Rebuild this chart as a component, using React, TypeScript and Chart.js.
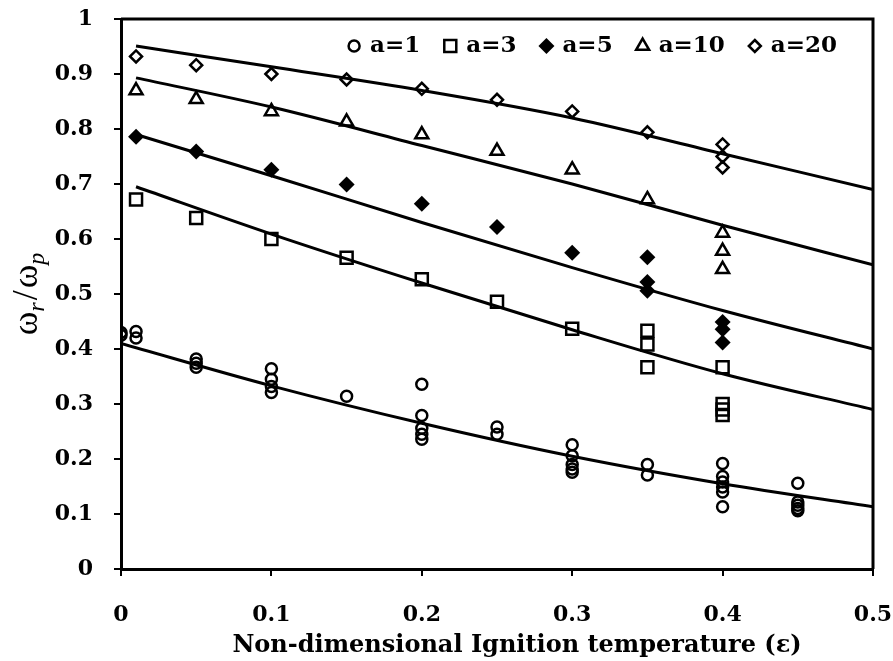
import React, { useEffect, useRef } from 'react';
import { Chart, registerables } from 'chart.js';

Chart.register(...registerables);

// ---- data ----
const eps1 = [0, 0, 0.01, 0.01, 0.05, 0.05, 0.05, 0.1, 0.1, 0.1, 0.1, 0.15, 0.2, 0.2, 0.2, 0.2, 0.2, 0.25, 0.25, 0.3, 0.3, 0.3, 0.3, 0.3, 0.35, 0.35, 0.4, 0.4, 0.4, 0.4, 0.4, 0.4, 0.45, 0.45, 0.45, 0.45, 0.45];
const w1 = [0.43, 0.425, 0.432, 0.42, 0.382, 0.374, 0.367, 0.364, 0.345, 0.332, 0.321, 0.314, 0.336, 0.279, 0.256, 0.245, 0.236, 0.258, 0.245, 0.226, 0.206, 0.19, 0.182, 0.176, 0.19, 0.171, 0.192, 0.168, 0.158, 0.149, 0.14, 0.113, 0.156, 0.122, 0.116, 0.11, 0.106];

const eps3 = [0.01, 0.05, 0.1, 0.15, 0.2, 0.25, 0.3, 0.35, 0.35, 0.35, 0.4, 0.4, 0.4, 0.4];
const w3 = [0.672, 0.638, 0.6, 0.566, 0.527, 0.486, 0.437, 0.433, 0.408, 0.367, 0.367, 0.3, 0.29, 0.28];

const eps5 = [0.01, 0.05, 0.1, 0.15, 0.2, 0.25, 0.3, 0.35, 0.35, 0.35, 0.4, 0.4, 0.4];
const w5 = [0.786, 0.759, 0.726, 0.699, 0.664, 0.622, 0.575, 0.567, 0.522, 0.506, 0.449, 0.436, 0.412];

const eps10 = [0.01, 0.05, 0.1, 0.15, 0.2, 0.25, 0.3, 0.35, 0.4, 0.4, 0.4];
const w10 = [0.87, 0.854, 0.832, 0.813, 0.79, 0.76, 0.726, 0.672, 0.611, 0.578, 0.545];

const eps20 = [0.01, 0.05, 0.1, 0.15, 0.2, 0.25, 0.3, 0.35, 0.4, 0.4, 0.4];
const w20 = [0.932, 0.916, 0.9, 0.89, 0.873, 0.853, 0.832, 0.794, 0.772, 0.75, 0.73];

// fitted curves
const fitEps1 = [0, 0.1, 0.2, 0.3, 0.4, 0.5];
const fit1 = [0.41, 0.333, 0.265, 0.205, 0.155, 0.113];
const fitEps = [0.01, 0.1, 0.2, 0.3, 0.4, 0.5];
const fit3 = [0.695, 0.609, 0.52, 0.435, 0.355, 0.29];
const fit5 = [0.79, 0.715, 0.63, 0.548, 0.47, 0.4];
const fit10 = [0.893, 0.84, 0.77, 0.7, 0.625, 0.553];
const fit20 = [0.951, 0.913, 0.87, 0.82, 0.755, 0.69];

const legendLabels = ['a=1', 'a=3', 'a=5', 'a=10', 'a=20'];
const xTitle = 'Non-dimensional Ignition temperature (\u03b5)';

const BOLD_FONT = '"DejaVu Serif"';

const pts = (xs: number[], ys: number[]) => xs.map((x, i) => ({ x, y: ys[i] }));

function drawMarker(ctx: CanvasRenderingContext2D, kind: string, x: number, y: number) {
  ctx.save();
  ctx.lineWidth = 2.5;
  ctx.strokeStyle = '#000';
  ctx.fillStyle = '#000';
  ctx.beginPath();
  if (kind === 'circle') {
    ctx.arc(x, y, 5.5, 0, Math.PI * 2);
    ctx.stroke();
  } else if (kind === 'square') {
    ctx.rect(x - 6, y - 6, 12, 12);
    ctx.stroke();
  } else if (kind === 'fdiamond' || kind === 'diamond') {
    const r = kind === 'fdiamond' ? 8 : 6;
    ctx.moveTo(x, y - r);
    ctx.lineTo(x + r, y);
    ctx.lineTo(x, y + r);
    ctx.lineTo(x - r, y);
    ctx.closePath();
    if (kind === 'fdiamond') ctx.fill();
    else ctx.stroke();
  } else if (kind === 'triangle') {
    const r = 7.5;
    for (let k = 0; k < 3; k++) {
      const a = -Math.PI / 2 + (k * 2 * Math.PI) / 3;
      const px = x + Math.cos(a) * r;
      const py = y + Math.sin(a) * r;
      if (k === 0) ctx.moveTo(px, py);
      else ctx.lineTo(px, py);
    }
    ctx.closePath();
    ctx.stroke();
  }
  ctx.restore();
}

const customPlugin = {
  id: 'customDecor',
  afterDraw(chart: any) {
    const { ctx, chartArea } = chart;
    // frame (top and right sides)
    ctx.save();
    ctx.strokeStyle = '#000';
    ctx.lineWidth = 3;
    ctx.beginPath();
    ctx.moveTo(chartArea.left, chartArea.top);
    ctx.lineTo(chartArea.right, chartArea.top);
    ctx.lineTo(chartArea.right, chartArea.bottom);
    ctx.stroke();
    ctx.restore();

    // legend
    const kinds = ['circle', 'square', 'fdiamond', 'triangle', 'diamond'];
    ctx.save();
    ctx.font = `bold 23px ${BOLD_FONT}`;
    ctx.fillStyle = '#000';
    ctx.textBaseline = 'middle';
    ctx.textAlign = 'left';
    const markerToText = 16;
    const textToMarker = 30;
    const widths = legendLabels.map((t) => ctx.measureText(t).width);
    let total = 0;
    widths.forEach((w, i) => {
      total += markerToText + w + (i < widths.length - 1 ? textToMarker : 0);
    });
    const rightEnd = 837;
    let cx = rightEnd - total;
    const cy = 46;
    legendLabels.forEach((t, i) => {
      drawMarker(ctx, kinds[i], cx, cy);
      ctx.fillText(t, cx + markerToText, cy);
      cx += markerToText + widths[i] + textToMarker;
    });
    ctx.restore();

    // x axis title
    ctx.save();
    ctx.font = `bold 24px ${BOLD_FONT}`;
    ctx.fillStyle = '#000';
    ctx.textAlign = 'center';
    ctx.textBaseline = 'alphabetic';
    ctx.fillText(xTitle, (chartArea.left + chartArea.right) / 2 + 20, 652);
    ctx.restore();

    // y axis title with subscripts
    ctx.save();
    const cyT = (chartArea.top + chartArea.bottom) / 2;
    ctx.translate(37, cyT);
    ctx.rotate(-Math.PI / 2);
    const big = '36px "Liberation Serif"';
    const small = 'italic 24px "Liberation Serif"';
    const parts = [
      { t: '\u03c9', f: big, dy: 0, gap: 0 },
      { t: 'r', f: small, dy: 7, gap: 2 },
      { t: '/', f: big, dy: 0, gap: 2 },
      { t: '\u03c9', f: big, dy: 0, gap: 0 },
      { t: 'p', f: small, dy: 7, gap: 0 },
    ];
    let tw = 0;
    const ws = parts.map((p) => {
      ctx.font = p.f;
      const w = ctx.measureText(p.t).width + p.gap;
      tw += w;
      return w;
    });
    let px = -tw / 2;
    ctx.fillStyle = '#000';
    ctx.textBaseline = 'alphabetic';
    parts.forEach((p, i) => {
      ctx.font = p.f;
      ctx.fillText(p.t, px, p.dy);
      px += ws[i];
    });
    ctx.restore();
  },
};

export default function App() {
  const ref = useRef<HTMLCanvasElement | null>(null);
  useEffect(() => {
    if (!ref.current) return;
    const scatterBase = {
      type: 'scatter' as const,
      showLine: false,
      borderColor: '#000',
      backgroundColor: 'rgba(0,0,0,0)',
      pointBorderWidth: 2.5,
      pointHoverBorderWidth: 2.5,
    };
    const lineBase = {
      type: 'line' as const,
      showLine: true,
      borderColor: '#000',
      borderWidth: 3,
      pointRadius: 0,
      pointHoverRadius: 0,
      fill: false,
      cubicInterpolationMode: 'monotone' as const,
    };
    const chart = new Chart(ref.current, {
      type: 'scatter',
      data: {
        datasets: [
          { ...lineBase, label: 'fit1', data: pts(fitEps1, fit1) },
          { ...lineBase, label: 'fit3', data: pts(fitEps, fit3) },
          { ...lineBase, label: 'fit5', data: pts(fitEps, fit5) },
          { ...lineBase, label: 'fit10', data: pts(fitEps, fit10) },
          { ...lineBase, label: 'fit20', data: pts(fitEps, fit20) },
          { ...scatterBase, label: legendLabels[0], data: pts(eps1, w1), pointStyle: 'circle', pointRadius: 5.5, pointHoverRadius: 5.5 },
          { ...scatterBase, label: legendLabels[1], data: pts(eps3, w3), pointStyle: 'rect', pointRadius: 8.5, pointHoverRadius: 8.5 },
          { ...scatterBase, label: legendLabels[2], data: pts(eps5, w5), pointStyle: 'rectRot', pointRadius: 8, pointHoverRadius: 8, backgroundColor: '#000', pointBorderWidth: 0 },
          { ...scatterBase, label: legendLabels[3], data: pts(eps10, w10), pointStyle: 'triangle', pointRadius: 7.5, pointHoverRadius: 7.5 },
          { ...scatterBase, label: legendLabels[4], data: pts(eps20, w20), pointStyle: 'rectRot', pointRadius: 6, pointHoverRadius: 6 },
        ] as any,
      },
      options: {
        responsive: false,
        animation: false,
        devicePixelRatio: 1,
        events: [],
        layout: { padding: { top: 19, right: 20, bottom: 0, left: 0 } },
        plugins: {
          legend: { display: false },
          tooltip: { enabled: false },
          title: { display: false },
        },
        scales: {
          x: {
            type: 'linear',
            min: 0,
            max: 0.5,
            afterFit: (s: any) => {
              s.height = 92;
              s.paddingLeft = 0;
              s.paddingRight = 0;
            },
            ticks: {
              stepSize: 0.1,
              maxRotation: 0,
              padding: 26,
              color: '#000',
              font: { family: BOLD_FONT, size: 22, weight: 'bold' },
              callback: (v: any) => String(Math.round(Number(v) * 10) / 10),
            },
            grid: {
              drawOnChartArea: false,
              drawTicks: true,
              tickLength: 7,
              color: '#000',
              lineWidth: 2,
            },
            border: { display: true, color: '#000', width: 3 },
          },
          y: {
            type: 'linear',
            min: 0,
            max: 1,
            afterFit: (s: any) => {
              s.width = 121;
              s.paddingTop = 0;
              s.paddingBottom = 0;
            },
            ticks: {
              stepSize: 0.1,
              padding: 21,
              color: '#000',
              font: { family: BOLD_FONT, size: 22, weight: 'bold' },
              callback: (v: any) => String(Math.round(Number(v) * 10) / 10),
            },
            grid: {
              drawOnChartArea: false,
              drawTicks: true,
              tickLength: 7,
              color: '#000',
              lineWidth: 2,
            },
            border: { display: true, color: '#000', width: 3 },
          },
        },
      } as any,
      plugins: [customPlugin],
    });
    return () => chart.destroy();
  }, []);

  return (
    <div style={{ position: 'fixed', left: 0, top: 0, width: 893, height: 661, background: '#fff' }}>
      <canvas ref={ref} width={893} height={661} style={{ width: 893, height: 661, display: 'block' }} />
    </div>
  );
}
